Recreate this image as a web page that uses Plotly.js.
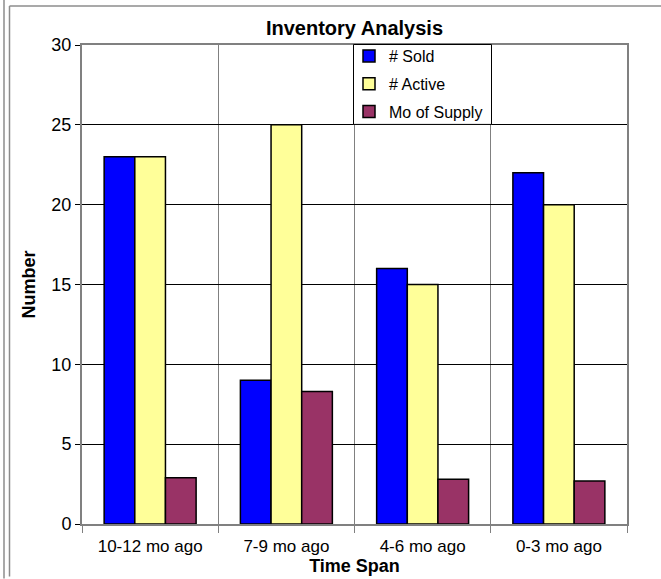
<!DOCTYPE html>
<html>
<head>
<meta charset="utf-8">
<script src="https://cdn.plot.ly/plotly-3.0.1.min.js"></script>
<style>
html,body{margin:0;padding:0;background:#fff;}
#chart{width:661px;height:579px;}
</style>
</head>
<body>
<div id="chart"></div>
<script>
var categories = ["10-12 mo ago", "7-9 mo ago", "4-6 mo ago", "0-3 mo ago"];
var soldValues = [23, 9, 16, 22];
var activeValues = [23, 25, 15, 20];
var supplyValues = [2.9, 8.3, 2.8, 2.7];
var seriesNames = ["# Sold", "# Active", "Mo of Supply"];
var yTickValues = [0, 5, 10, 15, 20, 25, 30];

var ARIAL = "Liberation Sans, Arial, sans-serif";
var NARROW = "Liberation Sans Narrow, Arial Narrow, Liberation Sans, Arial, sans-serif";

function barTrace(name, values, color, group) {
  return {
    type: "bar",
    name: name,
    x: categories,
    y: values,
    legendgroup: group,
    marker: {color: color, line: {color: "#000000", width: 1.5}},
    hoverinfo: "x+y+name"
  };
}

var data = [
  barTrace(seriesNames[0], soldValues, "#0000FF", "g1"),
  barTrace(seriesNames[1], activeValues, "#FFFF99", "g2"),
  barTrace(seriesNames[2], supplyValues, "#993366", "g3")
];

function px2x(px) { return (px - 82) / 545; }
function px2y(py) { return (524.5 - py) / 479.5; }
var frameColor = "#8c8c8c";

var layout = {
  width: 661,
  height: 579,
  margin: {l: 82, r: 34, t: 45, b: 55, pad: 0},
  paper_bgcolor: "#ffffff",
  plot_bgcolor: "#ffffff",
  barmode: "group",
  bargap: 0.325,
  bargroupgap: 0,
  title: {
    text: "<b>Inventory Analysis</b>",
    font: {family: NARROW, size: 20, color: "#000000"},
    x: 0.5, xref: "paper", xanchor: "center",
    y: 1 - 28 / 579, yref: "container", yanchor: "middle"
  },
  xaxis: {
    type: "category",
    tickson: "boundaries",
    ticks: "outside",
    ticklen: 7,
    tickcolor: "#808080",
    ticklabelstandoff: 6,
    showgrid: true,
    gridcolor: "#808080",
    gridwidth: 1,
    showline: true,
    linecolor: "#808080",
    linewidth: 2,
    mirror: true,
    tickfont: {family: ARIAL, size: 17, color: "#000000"},
    title: {text: "<b>Time Span</b>", font: {family: NARROW, size: 18, color: "#000000"}, standoff: 0}
  },
  yaxis: {
    range: [0, 30],
    tickvals: yTickValues,
    ticks: "outside",
    ticklen: 5,
    tickcolor: "#000000",
    showgrid: true,
    gridcolor: "#000000",
    gridwidth: 1,
    zeroline: false,
    showline: true,
    linecolor: "#808080",
    linewidth: 2,
    mirror: true,
    tickfont: {family: ARIAL, size: 18, color: "#000000"},
    title: {text: "<b>Number</b>", font: {family: ARIAL, size: 18, color: "#000000"}}
  },
  legend: {
    x: px2x(349), y: px2y(39),
    xanchor: "left", yanchor: "top",
    bgcolor: "rgba(0,0,0,0)",
    borderwidth: 0,
    traceorder: "grouped",
    tracegroupgap: 4,
    font: {family: ARIAL, size: 16, color: "#000000"}
  },
  shapes: [
    {type: "rect", xref: "paper", yref: "paper", layer: "above",
     x0: px2x(353.5), x1: px2x(491.5), y0: px2y(124.5), y1: px2y(44.5),
     fillcolor: "#ffffff", line: {color: "#000000", width: 1}},
    {type: "line", xref: "paper", yref: "paper", x0: px2x(4), x1: px2x(4), y0: px2y(0), y1: px2y(579), line: {color: frameColor, width: 1.5}},
    {type: "line", xref: "paper", yref: "paper", x0: px2x(9.5), x1: px2x(9.5), y0: px2y(6), y1: px2y(577), line: {color: frameColor, width: 1.5}},
    {type: "line", xref: "paper", yref: "paper", x0: px2x(9.5), x1: px2x(661), y0: px2y(6), y1: px2y(6), line: {color: frameColor, width: 1.5}}
  ]
};

Plotly.newPlot("chart", data, layout, {displayModeBar: false, staticPlot: true});
</script>
</body>
</html>
